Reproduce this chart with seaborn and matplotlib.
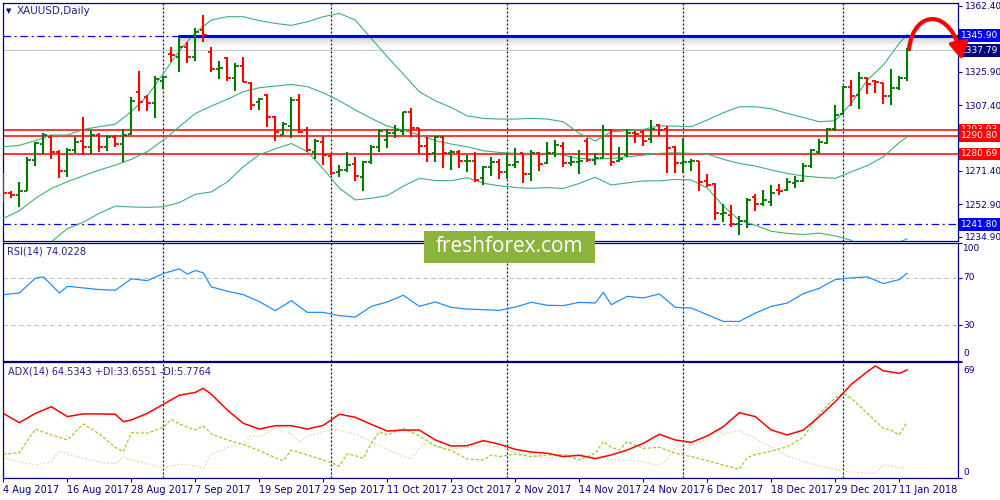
import numpy as np
import pandas as pd
import matplotlib
matplotlib.use("Agg")
import matplotlib.pyplot as plt
import matplotlib.transforms as mtrans
from matplotlib.patches import FancyArrowPatch, Rectangle
from matplotlib.path import Path
import seaborn as sns

# ---- datos (barras diarias XAUUSD, 4 Aug 2017 - 12 Jan 2018) ----
bar_open = [1266.0, 1259.0, 1258.0, 1260.4, 1277.3, 1286.0, 1290.0, 1282.0, 1271.0, 1282.8,
            1288.0, 1284.5, 1291.0, 1284.6, 1290.2, 1286.0, 1291.5, 1315.0, 1312.3, 1308.6,
            1321.0, 1336.0, 1334.0, 1339.8, 1334.0, 1349.0, 1337.0, 1327.3, 1333.4, 1322.3,
            1329.0, 1319.6, 1309.5, 1313.0, 1301.0, 1291.0, 1296.0, 1310.6, 1294.0, 1282.0,
            1287.0, 1279.5, 1270.8, 1272.0, 1274.9, 1267.7, 1276.0, 1284.6, 1288.3, 1292.0,
            1293.5, 1303.6, 1295.1, 1285.0, 1281.0, 1290.0, 1281.4, 1282.0, 1276.7, 1277.0,
            1267.5, 1273.6, 1276.0, 1270.5, 1274.5, 1281.0, 1269.8, 1281.0, 1275.5, 1281.4,
            1285.0, 1275.5, 1276.0, 1288.0, 1277.3, 1278.5, 1293.8, 1276.7, 1280.0, 1292.0,
            1292.5, 1288.7, 1296.6, 1294.7, 1284.6, 1275.5, 1276.0, 1276.7, 1265.7, 1264.0,
            1247.4, 1247.0, 1241.8, 1243.9, 1257.0, 1253.3, 1254.3, 1261.0, 1260.5, 1264.7,
            1265.6, 1273.8, 1281.9, 1286.9, 1294.7, 1302.5, 1317.4, 1313.0, 1322.3, 1320.9,
            1319.6, 1312.6, 1316.9, 1322.8]
bar_high = [1270.0, 1260.3, 1265.0, 1279.1, 1287.4, 1292.0, 1291.0, 1283.0, 1283.7, 1289.8,
            1301.2, 1293.8, 1292.4, 1291.0, 1291.0, 1294.4, 1312.2, 1326.4, 1313.1, 1323.6,
            1323.6, 1339.8, 1344.4, 1342.6, 1350.0, 1357.4, 1339.8, 1331.9, 1334.3, 1330.6,
            1334.3, 1320.5, 1311.3, 1314.0, 1301.6, 1298.4, 1312.2, 1313.5, 1295.7, 1288.7,
            1290.5, 1280.6, 1274.5, 1282.0, 1279.0, 1276.7, 1285.5, 1294.4, 1294.4, 1296.6,
            1303.6, 1305.8, 1295.1, 1290.0, 1290.5, 1290.5, 1283.0, 1282.8, 1280.0, 1281.9,
            1274.1, 1278.7, 1277.6, 1281.0, 1284.0, 1281.4, 1282.8, 1281.9, 1287.4, 1288.3,
            1287.0, 1279.6, 1283.0, 1289.2, 1281.4, 1296.6, 1294.7, 1284.6, 1294.2, 1293.3,
            1293.8, 1299.4, 1297.1, 1296.0, 1285.0, 1289.6, 1277.6, 1277.0, 1269.6, 1264.6,
            1253.0, 1252.4, 1246.4, 1256.4, 1258.3, 1261.0, 1263.7, 1264.2, 1267.3, 1268.4,
            1275.5, 1283.5, 1288.7, 1295.0, 1307.7, 1318.0, 1321.4, 1326.0, 1322.9, 1321.4,
            1319.9, 1327.5, 1323.6, 1338.9]
bar_low = [1254.0, 1256.5, 1251.2, 1260.4, 1274.2, 1280.6, 1278.0, 1267.5, 1267.9, 1281.4,
           1280.0, 1280.6, 1281.9, 1282.4, 1284.5, 1276.3, 1291.0, 1304.3, 1304.5, 1300.3,
           1316.3, 1331.5, 1326.0, 1330.6, 1332.0, 1342.6, 1326.0, 1322.0, 1320.9, 1315.5,
           1320.5, 1305.0, 1305.0, 1295.7, 1288.0, 1291.0, 1289.3, 1292.0, 1282.0, 1277.6,
           1274.5, 1269.0, 1268.0, 1270.6, 1266.0, 1260.4, 1275.0, 1281.9, 1284.0, 1289.3,
           1291.0, 1290.0, 1280.6, 1276.3, 1276.3, 1272.7, 1272.0, 1273.0, 1270.8, 1265.3,
           1263.5, 1268.4, 1267.0, 1267.0, 1272.7, 1264.4, 1266.0, 1271.4, 1275.0, 1279.0,
           1273.2, 1274.0, 1269.5, 1276.3, 1274.5, 1278.2, 1274.1, 1276.3, 1278.7, 1286.5,
           1285.2, 1286.5, 1290.5, 1270.0, 1270.0, 1270.0, 1271.4, 1260.4, 1262.6, 1244.0,
           1243.2, 1240.5, 1235.9, 1240.0, 1249.0, 1252.0, 1252.0, 1258.0, 1260.2, 1262.0,
           1265.0, 1273.0, 1280.6, 1286.0, 1293.5, 1302.0, 1307.0, 1305.2, 1313.5, 1314.5,
           1308.2, 1307.7, 1316.0, 1321.0]
bar_close = [1258.9, 1258.0, 1260.4, 1277.3, 1286.5, 1291.0, 1282.0, 1271.0, 1282.8, 1287.4,
             1284.5, 1291.0, 1284.6, 1290.2, 1286.1, 1291.0, 1310.0, 1309.5, 1308.6, 1321.8,
             1323.0, 1335.0, 1339.8, 1334.0, 1348.0, 1346.3, 1327.3, 1328.0, 1322.3, 1329.0,
             1320.5, 1307.7, 1311.0, 1301.2, 1293.0, 1297.0, 1310.4, 1293.0, 1282.8, 1288.0,
             1280.0, 1270.3, 1271.7, 1274.5, 1268.5, 1276.3, 1284.6, 1293.3, 1292.0, 1293.8,
             1303.6, 1295.0, 1285.0, 1280.6, 1290.0, 1281.4, 1282.0, 1276.7, 1277.0, 1266.3,
             1273.6, 1276.0, 1270.5, 1274.5, 1276.0, 1269.5, 1281.0, 1275.0, 1281.4, 1285.5,
             1275.5, 1276.0, 1276.5, 1277.3, 1278.2, 1293.8, 1276.3, 1277.6, 1292.0, 1291.5,
             1288.0, 1294.7, 1293.8, 1284.2, 1275.5, 1276.0, 1276.7, 1265.3, 1263.7, 1248.0,
             1248.2, 1241.8, 1243.7, 1255.5, 1253.3, 1255.2, 1259.2, 1260.0, 1265.0, 1265.6,
             1274.0, 1282.8, 1287.4, 1294.7, 1302.4, 1317.4, 1312.8, 1322.7, 1319.2, 1320.5,
             1312.6, 1316.9, 1322.4, 1337.8]

# Bandas de Bollinger (cada 2 barras)
band_idx = list(range(0, 113, 2)) + [113]
bb_upper = [1284.6, 1285.4, 1288.0, 1291.1, 1291.1, 1294.2, 1295.7, 1297.1, 1304.0, 1312.6,
            1325.1, 1337.6, 1347.6, 1354.5, 1356.4, 1356.4, 1354.2, 1352.7, 1351.6, 1353.6,
            1356.4, 1358.2, 1354.5, 1344.4, 1334.3, 1324.7, 1315.0, 1310.0, 1306.3, 1301.6,
            1300.3, 1299.9, 1299.9, 1300.3, 1299.9, 1298.4, 1292.0, 1287.8, 1292.9, 1293.5,
            1294.2, 1296.2, 1296.0, 1295.7, 1299.4, 1303.4, 1306.7, 1306.7, 1305.6, 1303.0,
            1300.8, 1298.4, 1299.0, 1308.6, 1321.4, 1329.7, 1341.7, 1346.6]
bb_middle = [1245.1, 1249.3, 1256.1, 1261.6, 1265.3, 1268.6, 1271.8, 1274.5, 1277.7, 1281.9,
             1288.3, 1295.7, 1303.0, 1307.1, 1310.8, 1315.0, 1317.2, 1318.1, 1319.0, 1317.8,
             1314.4, 1310.0, 1304.9, 1300.3, 1296.0, 1293.8, 1291.1, 1288.0, 1286.1, 1284.6,
             1282.4, 1281.5, 1281.0, 1281.0, 1281.0, 1280.0, 1278.2, 1277.8, 1278.2, 1279.1,
             1280.0, 1281.0, 1281.3, 1281.0, 1280.6, 1277.7, 1275.4, 1274.0, 1271.8, 1269.9,
             1268.5, 1267.7, 1267.2, 1270.8, 1274.2, 1279.1, 1286.9, 1290.2]
bb_lower = [1205.6, 1213.2, 1224.2, 1232.1, 1239.5, 1243.0, 1247.9, 1251.9, 1251.4, 1251.2,
            1251.5, 1253.8, 1258.4, 1259.7, 1265.2, 1273.6, 1280.2, 1283.5, 1286.4, 1282.0,
            1272.4, 1261.8, 1255.3, 1256.2, 1257.7, 1262.9, 1267.2, 1266.0, 1265.9, 1267.6,
            1264.5, 1263.1, 1262.1, 1261.7, 1262.1, 1261.6, 1264.4, 1267.8, 1263.5, 1264.7,
            1265.8, 1265.8, 1266.6, 1266.3, 1261.8, 1252.0, 1244.1, 1241.3, 1238.0, 1236.8,
            1236.2, 1237.0, 1235.4, 1233.0, 1227.0, 1228.5, 1232.1, 1233.8]

# RSI(14)
rsi_idx = [0, 2, 4, 5, 6, 7, 8, 10, 12, 14, 16, 18, 20, 21, 22, 23, 24, 25, 26, 28, 30, 32, 34,
           36, 38, 40, 42, 44, 46, 48, 50, 52, 54, 56, 58, 60, 62, 64, 66, 68, 70, 72, 74, 75,
           76, 78, 80, 82, 84, 86, 88, 90, 92, 94, 96, 98, 100, 102, 104, 106, 108, 110, 112, 113]
rsi_val = [55.8, 57.2, 69.7, 70.9, 64.3, 57.2, 62.9, 61.5, 60.1, 59.5, 69.2, 67.7, 73.7, 75.7,
           77.7, 73.2, 76.3, 74.3, 62.4, 58.7, 55.8, 49.9, 42.2, 50.7, 40.8, 40.8, 38.0, 36.8,
           45.9, 49.6, 55.3, 45.9, 49.6, 45.0, 43.6, 43.1, 42.5, 45.3, 49.3, 46.8, 46.5, 49.3,
           48.7, 57.8, 47.3, 54.4, 53.0, 56.4, 45.0, 44.5, 38.8, 33.1, 33.1, 40.2, 45.9, 48.7,
           56.7, 61.2, 68.6, 70.0, 70.9, 65.2, 68.6, 74.0]

# ADX(14), +DI, -DI
adx_idx = [0, 2, 4, 6, 8, 10, 12, 14, 15, 16, 18, 20, 22, 24, 25, 26, 28, 30, 32, 34, 36, 38,
           40, 42, 44, 46, 48, 50, 52, 54, 56, 58, 60, 62, 64, 66, 68, 70, 72, 74, 76, 78, 80,
           82, 84, 86, 88, 90, 92, 94, 96, 98, 100, 102, 104, 106, 108, 109, 110, 112, 113]
adx_val = [38.6, 33.1, 38.6, 42.6, 36.7, 38.3, 38.3, 38.1, 33.7, 34.7, 38.6, 44.0, 49.4, 51.1,
           53.5, 50.0, 40.6, 32.7, 29.3, 31.3, 31.3, 29.3, 31.5, 38.1, 36.3, 32.1, 28.1, 28.7,
           28.7, 22.8, 19.2, 19.4, 22.4, 20.3, 17.2, 15.6, 14.9, 12.9, 13.7, 11.7, 13.9, 16.8,
           20.8, 26.2, 22.8, 21.4, 25.2, 30.7, 39.0, 36.7, 28.7, 25.8, 28.7, 36.7, 45.6, 55.9,
           63.4, 66.8, 64.0, 62.4, 64.5]
pdi_idx = [0, 2, 4, 6, 8, 10, 12, 14, 15, 16, 18, 20, 21, 22, 24, 25, 26, 28, 30, 32, 34, 35,
           36, 38, 40, 42, 43, 44, 45, 46, 47, 48, 50, 52, 54, 56, 58, 60, 61, 62, 64, 66, 68,
           70, 72, 74, 75, 76, 77, 78, 80, 82, 84, 86, 88, 90, 92, 93, 94, 96, 98, 100, 102,
           104, 105, 106, 108, 110, 111, 112, 113]
pdi_val = [14.3, 15.2, 29.3, 25.8, 22.8, 32.3, 26.4, 18.4, 15.8, 27.1, 26.8, 30.3, 35.1, 32.3,
           28.7, 31.1, 26.4, 22.8, 20.2, 16.4, 12.3, 10.5, 16.8, 13.9, 10.9, 7.3, 14.5, 13.5,
           11.9, 20.8, 27.7, 25.8, 29.7, 25.2, 19.4, 16.4, 11.5, 10.9, 13.9, 12.9, 14.5, 12.9,
           13.9, 14.1, 10.9, 14.9, 21.8, 18.4, 16.8, 21.8, 17.8, 18.4, 14.9, 12.9, 10.5, 7.9,
           5.3, 12.4, 14.1, 16.1, 18.8, 24.4, 38.3, 48.0, 50.5, 47.6, 38.7, 29.7, 28.7, 25.8, 33.7]
mdi_idx = [0, 2, 4, 6, 7, 8, 10, 12, 14, 15, 16, 18, 20, 22, 24, 25, 26, 28, 30, 31, 32, 34,
           36, 37, 38, 40, 42, 44, 46, 48, 50, 51, 52, 53, 54, 56, 58, 60, 62, 64, 66, 68, 70,
           72, 74, 76, 78, 80, 82, 83, 84, 85, 86, 88, 89, 90, 92, 94, 96, 98, 100, 102, 104,
           106, 108, 109, 110, 112, 113]
mdi_val = [12.5, 9.7, 7.9, 9.9, 16.4, 14.5, 11.9, 9.5, 8.7, 12.9, 10.9, 8.7, 5.9, 8.5, 7.3,
           5.9, 14.3, 18.4, 20.4, 25.4, 24.8, 29.5, 26.4, 21.8, 24.8, 27.9, 28.7, 26.4, 21.8,
           17.2, 12.9, 11.5, 17.6, 21.2, 18.8, 17.2, 18.4, 19.8, 18.4, 15.2, 13.9, 11.7, 13.5,
           14.3, 12.3, 11.3, 10.9, 9.9, 7.3, 11.3, 18.4, 21.8, 19.8, 22.8, 28.7, 26.4, 28.3,
           23.8, 18.4, 13.3, 9.9, 7.5, 5.3, 3.8, 3.0, 3.0, 7.9, 6.5, 5.8]

date_ticks = list(range(0, 113, 8))
date_labels = ["4 Aug 2017", "16 Aug 2017", "28 Aug 2017", "7 Sep 2017", "19 Sep 2017",
               "29 Sep 2017", "11 Oct 2017", "23 Oct 2017", "2 Nov 2017", "14 Nov 2017",
               "24 Nov 2017", "6 Dec 2017", "18 Dec 2017", "29 Dec 2017", "11 Jan 2018"]
month_breaks = [20, 41, 63, 85, 105]
price_ticks = [1362.40, 1325.90, 1307.40, 1271.40, 1252.90, 1234.90]
red_levels = [1293.93, 1290.80, 1280.69]
blue_levels = [1345.90, 1241.80]
last_price = 1337.79

NAVY = "#000080"
VERDE = "#007a00"
ROJO = "#ff0000"
FS_ESCALA = 6.5

sns.set_style("white")
plt.rcParams["font.family"] = ["DejaVu Sans"]

fig = plt.figure(figsize=(10, 5), dpi=100)
fig.patch.set_facecolor("white")


def panel(top, bottom):
    # posiciones en pixeles de la imagen original
    return fig.add_axes([3 / 1000, 1 - bottom / 500, (957.7 - 3) / 1000, (bottom - top) / 500])


ax = panel(3, 240.5)
ax_rsi = panel(242.5, 360.5)
ax_adx = panel(362.3, 478.3)

XMIN, XMAX = -0.04, 119.3
for a in (ax, ax_rsi, ax_adx):
    a.set_xlim(XMIN, XMAX)
    a.set_facecolor("white")
    for s in a.spines.values():
        s.set_color(NAVY)
        s.set_linewidth(0.9)
    a.yaxis.tick_right()
    a.tick_params(axis="y", length=3, color=NAVY, labelcolor=NAVY, labelsize=FS_ESCALA, pad=2,
                  left=False, right=True, labelleft=False, labelright=True)
    for b in month_breaks:
        a.axvline(b, color=NAVY, lw=0.9, ls=(0, (1.6, 1.6)), zorder=1)

ax.tick_params(axis="x", bottom=False, labelbottom=False)
ax_rsi.tick_params(axis="x", bottom=False, labelbottom=False)

# ---- panel principal ----
ax.set_ylim(1232.9, 1363.95)
ax.set_yticks(price_ticks)
ax.set_yticklabels([f"{p:.2f}" for p in price_ticks])

df = pd.DataFrame({"o": bar_open, "h": bar_high, "l": bar_low, "c": bar_close})
df["i"] = np.arange(len(df))
cols = np.where(df["c"] >= df["o"], VERDE, ROJO)
ax.vlines(df["i"], df["l"], df["h"], colors=cols, lw=1.5, zorder=4)
ax.hlines(df["o"], df["i"] - 0.4, df["i"], colors=cols, lw=1.3, zorder=4)
ax.hlines(df["c"], df["i"], df["i"] + 0.4, colors=cols, lw=1.3, zorder=4)

for serie in (bb_upper, bb_middle, bb_lower):
    sns.lineplot(x=band_idx, y=serie, ax=ax, color="#3cb371", lw=0.8, zorder=3)

for lvl in red_levels:
    ax.axhline(lvl, color=ROJO, lw=1.1, zorder=2)
ax.axhline(last_price, color="#c8c8c8", lw=0.8, zorder=2)
for lvl in blue_levels:
    ax.axhline(lvl, color="#0000ff", lw=0.9, ls=(0, (6, 3, 1.5, 3)), zorder=2)

# linea gruesa con sombra
for k in range(1, 10):
    ax.hlines(blue_levels[0] - 0.3 - k * 0.55, 21.8, XMAX, color="#808080",
              alpha=0.35 * (1 - k / 10), lw=0.8, zorder=2)
ax.hlines(blue_levels[0] + 0.6, 21.8, XMAX, color="#a0a0a0", alpha=0.3, lw=0.8, zorder=2)
ax.hlines(blue_levels[0], 21.8, XMAX, color="#0000ff", lw=2.2, zorder=3)

yt = mtrans.blended_transform_factory(ax.transAxes, ax.transData)
etiquetas = [(1293.93, ROJO), (1290.80, ROJO), (1280.69, ROJO),
             (1345.90, "#0000ff"), (last_price, NAVY), (1241.80, "#0000ff")]
for val, col in etiquetas:
    ax.text(1.0035, val, f"{val:.2f}", transform=yt, ha="left", va="center",
            fontsize=FS_ESCALA, color="white", clip_on=False, zorder=6,
            bbox=dict(boxstyle="square,pad=0.2", fc=col, ec="none"))

# ---- RSI ----
sns.lineplot(x=rsi_idx, y=rsi_val, ax=ax_rsi, color="#1e90ff", lw=0.9)
for lvl in (70, 30):
    ax_rsi.axhline(lvl, color="#c0c0c0", lw=0.8, ls=(0, (4, 3)), zorder=1)
ax_rsi.set_ylim(0, 100)
ax_rsi.set_yticks([100, 70, 30, 0])
ax_rsi.set_yticklabels([])
yt2 = mtrans.blended_transform_factory(ax_rsi.transAxes, ax_rsi.transData)
for pos, txt in [(95, "100"), (70, "70"), (30, "30"), (6, "0")]:
    ax_rsi.text(1.006, pos, txt, transform=yt2, ha="left", va="center", fontsize=FS_ESCALA,
                color=NAVY, clip_on=False)

# ---- ADX ----
sns.lineplot(x=mdi_idx, y=mdi_val, ax=ax_adx, color="#f3d5a8", lw=0.9)
ax_adx.lines[-1].set_dashes([1.5, 1.5])
sns.lineplot(x=pdi_idx, y=pdi_val, ax=ax_adx, color="#9acd32", lw=0.9)
ax_adx.lines[-1].set_dashes([2.5, 1.5])
sns.lineplot(x=adx_idx, y=adx_val, ax=ax_adx, color=ROJO, lw=1.1)
ax_adx.set_ylim(0, 69)
ax_adx.set_yticks([69, 0])
ax_adx.set_yticklabels([])
yt3 = mtrans.blended_transform_factory(ax_adx.transAxes, ax_adx.transData)
for pos, txt in [(64.3, "69"), (3.6, "0")]:
    ax_adx.text(1.006, pos, txt, transform=yt3, ha="left", va="center", fontsize=FS_ESCALA,
                color=NAVY, clip_on=False)

ax_adx.set_xticks(date_ticks)
ax_adx.set_xticklabels(date_labels, ha="left", fontsize=7, color=NAVY)
ax_adx.tick_params(axis="x", bottom=True, length=3, color=NAVY, pad=2, direction="out")

for a in (ax, ax_rsi, ax_adx):
    a.set_xlabel("")
    a.set_ylabel("")
    a.set_xlim(XMIN, XMAX)


# ---- textos de cabecera ----
def fx(x):
    return x / 1000


def fy(y):
    return 1 - y / 500


fig.text(fx(6), fy(11), "\u25bc", fontsize=5, color=NAVY, va="center")
fig.text(fx(17), fy(11), "XAUUSD,Daily", fontsize=7.5, color="#22228a", va="center")
fig.text(fx(7), fy(251), "RSI(14) 74.0228", fontsize=7, color="#22228a", va="center")
fig.text(fx(8), fy(372), "ADX(14) 64.5343 +DI:33.6551 -DI:5.7764", fontsize=7,
         color="#22228a", va="center")

# ---- marca de agua ----
fig.add_artist(Rectangle((fx(424), fy(262.5)), 171 / 1000, 31.5 / 500,
                         transform=fig.transFigure, fc="#8db33f", ec="none", zorder=10))
fig.text(fx(509.5), fy(246), "freshforex.com", color="white", fontsize=15,
         family=["Open Sans", "DejaVu Sans"], ha="center", va="center", zorder=11)

# ---- flecha roja ----
verts = [(fx(909), fy(49)), (fx(914), fy(8)), (fx(952), fy(8)), (fx(962), fy(60))]
flecha = FancyArrowPatch(path=Path(verts, [Path.MOVETO, Path.CURVE4, Path.CURVE4, Path.CURVE4]),
                         arrowstyle="-|>,head_length=0.7,head_width=0.4", mutation_scale=14,
                         color=ROJO, lw=3, transform=fig.transFigure, zorder=12)
fig.add_artist(flecha)

fig.savefig("out.png", dpi=100)
